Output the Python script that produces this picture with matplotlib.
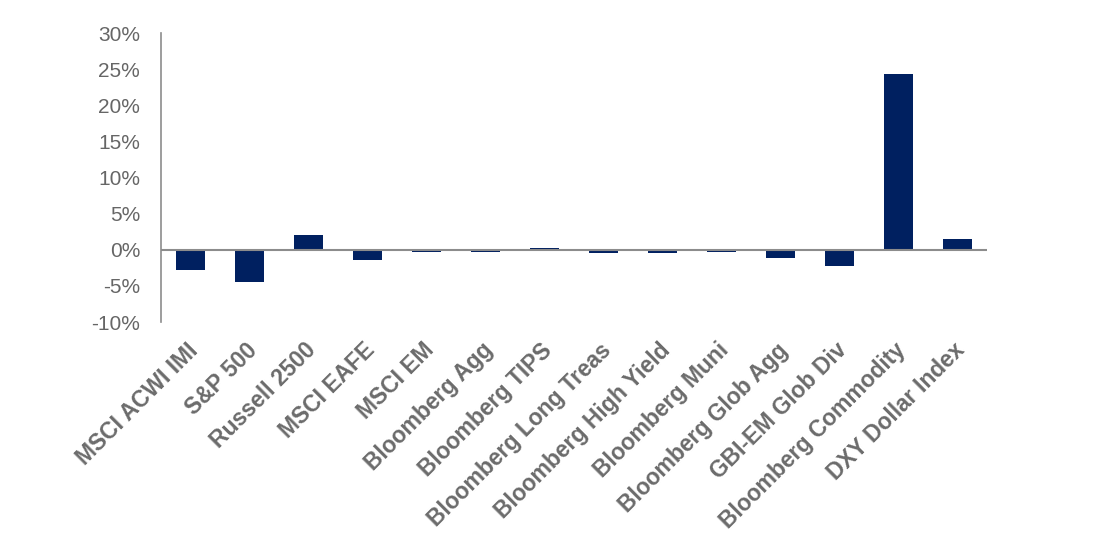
import matplotlib
matplotlib.use("Agg")
import matplotlib.pyplot as plt
import matplotlib.transforms as mtransforms
from matplotlib.ticker import FuncFormatter

categories = ["MSCI ACWI IMI", "S&P 500", "Russell 2500", "MSCI EAFE", "MSCI EM",
              "Bloomberg Agg", "Bloomberg TIPS", "Bloomberg Long Treas",
              "Bloomberg High Yield", "Bloomberg Muni", "Bloomberg Glob Agg",
              "GBI-EM Glob Div", "Bloomberg Commodity", "DXY Dollar Index"]
values = [-2.8, -4.4, 2.0, -1.35, -0.25, -0.25, 0.2, -0.5, -0.5, -0.25, -1.1, -2.3, 24.4, 1.5]
yticks = [-10, -5, 0, 5, 10, 15, 20, 25, 30]

plt.rcParams['font.family'] = ['Liberation Sans', 'DejaVu Sans']

fig = plt.figure(figsize=(11.02, 5.51), dpi=100)
ax = fig.add_axes([0.146, 0.4156, 0.7496, 0.5244])

x = list(range(len(categories)))
ax.bar(x, values, width=0.49, color='#002060', zorder=2)
ax.axhline(0, color='#8c8c8c', linewidth=1.5, zorder=3)

ax.set_xlim(-0.5, len(categories) - 0.5)
ax.set_ylim(-10, 30)
ax.set_yticks(yticks)
ax.yaxis.set_major_formatter(FuncFormatter(lambda v, p: f"{int(v)}%"))
ax.tick_params(axis='y', length=0, pad=15, labelsize=15, labelcolor='#666666')
ax.tick_params(axis='x', length=0, pad=12)
ax.set_xticks(x)
ax.set_xticklabels(categories, rotation=45, ha='right', rotation_mode='anchor',
                   fontsize=16.5, fontweight='bold', color='#6b6b6b')
offset = mtransforms.ScaledTranslation(-4 / 100, 0, fig.dpi_scale_trans)
for lbl in ax.get_xticklabels():
    lbl.set_transform(lbl.get_transform() + offset)

for s in ['top', 'right', 'bottom']:
    ax.spines[s].set_visible(False)
ax.spines['left'].set_color('#8c8c8c')
ax.spines['left'].set_linewidth(1.2)

fig.savefig("out.png", dpi=100)
